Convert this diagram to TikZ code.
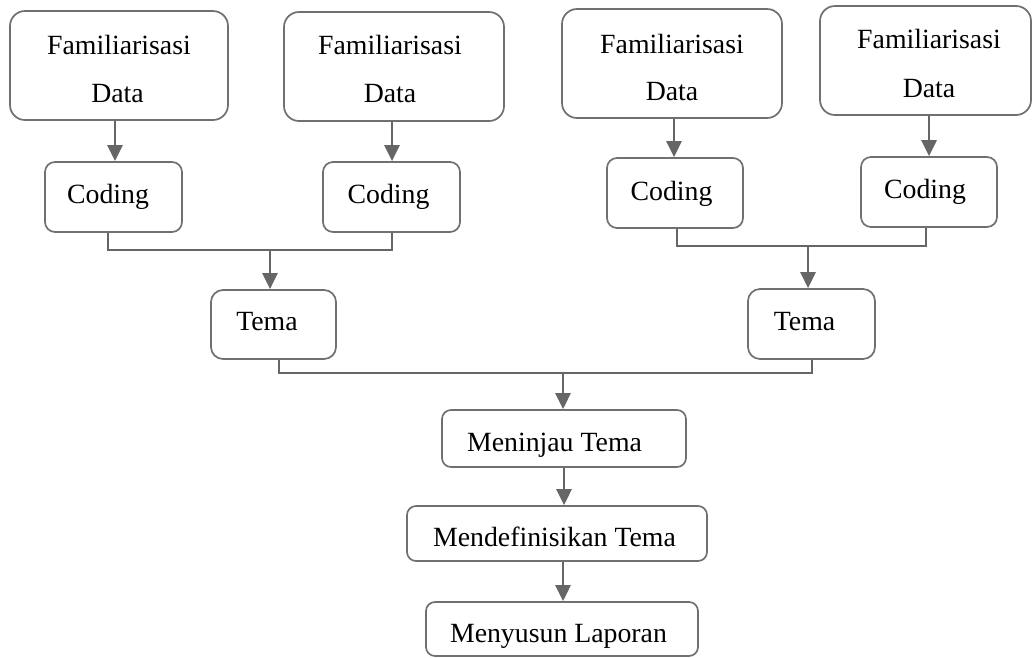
\documentclass[tikz,border=0pt]{standalone}
\usepackage{fontspec}
\setmainfont{Liberation Serif}
\usetikzlibrary{arrows.meta}
\definecolor{boxc}{RGB}{112,112,112}
\definecolor{linkc}{RGB}{102,102,102}
\tikzset{
  box/.style={draw=boxc, line width=1.7pt, rounded corners=#1, inner sep=0pt, fill=white},
  txt/.style={inner sep=0pt, anchor=base, text=black, font=\fontsize{27.8}{33}\selectfont},
  link/.style={draw=linkc, line width=2.8pt},
  arr/.style={link, -{Triangle[width=15pt,length=16pt]}},
}
\begin{document}
\begin{tikzpicture}[x=1pt, y=-1pt]
\useasboundingbox (0,0) rectangle (1032,657);

% top row: data familiarisation
\node[box=15pt, minimum width=218pt, minimum height=109pt] (fd1) at (119,65.5) {};
\node[box=15pt, minimum width=220pt, minimum height=109pt] (fd2) at (394,66.5) {};
\node[box=15pt, minimum width=220pt, minimum height=109pt] (fd3) at (672,63.5) {};
\node[box=15pt, minimum width=211pt, minimum height=109pt] (fd4) at (925.5,60.5) {};
\node[txt] (fd1a) at (119,54) {Familiarisasi};
\node[txt] (fd1b) at (117.5,102) {Data};
\node[txt] (fd2a) at (390,54) {Familiarisasi};
\node[txt] (fd2b) at (390,102) {Data};
\node[txt] (fd3a) at (672,53) {Familiarisasi};
\node[txt] (fd3b) at (672,100) {Data};
\node[txt] (fd4a) at (929,48) {Familiarisasi};
\node[txt] (fd4b) at (929,97) {Data};

% coding
\node[box=10pt, minimum width=137pt, minimum height=70pt] (c1) at (113.5,197) {};
\node[box=10pt, minimum width=137pt, minimum height=70pt] (c2) at (391.5,197) {};
\node[box=10pt, minimum width=136pt, minimum height=70pt] (c3) at (675,193) {};
\node[box=10pt, minimum width=136pt, minimum height=70pt] (c4) at (929,192) {};
\node[txt] (c1t) at (108,203) {Coding};
\node[txt] (c2t) at (388.5,203) {Coding};
\node[txt] (c3t) at (671.5,200) {Coding};
\node[txt] (c4t) at (925,198) {Coding};

% themes
\node[box=12pt, minimum width=125pt, minimum height=69pt] (t1) at (273.5,324.5) {};
\node[box=12pt, minimum width=127pt, minimum height=70pt] (t2) at (811.5,324) {};
\node[txt] (t1t) at (267,330) {Tema};
\node[txt] (t2t) at (804.5,330) {Tema};

% final steps
\node[box=9pt, minimum width=244pt, minimum height=57pt] (m1) at (564,438.5) {};
\node[box=9pt, minimum width=300pt, minimum height=55pt] (m2) at (557,533.5) {};
\node[box=9pt, minimum width=272pt, minimum height=54pt] (m3) at (562,629) {};
\node[txt] (m1t) at (554.5,451) {Meninjau Tema};
\node[txt] (m2t) at (554.5,546) {Mendefinisikan Tema};
\node[txt] (m3t) at (558.5,642) {Menyusun Laporan};

% familiarisation -> coding
\draw[arr] ([xshift=-4pt]fd1.south) -- ([xshift=-4pt]fd1.south |- c1.north);
\draw[arr] ([xshift=-2pt]fd2.south) -- ([xshift=-2pt]fd2.south |- c2.north);
\draw[arr] ([xshift=2pt]fd3.south) -- ([xshift=2pt]fd3.south |- c3.north);
\draw[arr] ([xshift=3.5pt]fd4.south) -- ([xshift=3.5pt]fd4.south |- c4.north);

% coding -> themes
\coordinate (j1) at (270,250);
\coordinate (j2) at (808,246);
\draw[link] ([xshift=-5.5pt]c1.south) |- (j1) -| ([xshift=0.5pt]c2.south);
\draw[arr] (j1) -- (j1 |- t1.north);
\draw[link] ([xshift=2pt]c3.south) |- (j2) -| ([xshift=-3pt]c4.south);
\draw[arr] (j2) -- (j2 |- t2.north);

% themes -> review
\coordinate (j3) at (563,373);
\draw[link] ([xshift=5.5pt]t1.south) |- (j3) -| ([xshift=0.5pt]t2.south);
\draw[arr] (j3) -- (j3 |- m1.north);

\draw[arr] (m1.south) -- (m1.south |- m2.north);
\draw[arr] ([xshift=6pt]m2.south) -- ([xshift=6pt]m2.south |- m3.north);
\end{tikzpicture}
\end{document}
